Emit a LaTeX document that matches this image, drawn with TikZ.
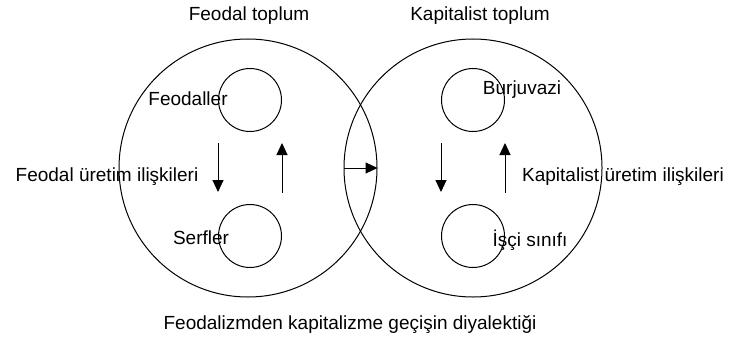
\documentclass[tikz,border=0pt]{standalone}
\usepackage{fontspec}
\setmainfont{Liberation Sans}
\usetikzlibrary{positioning}
\usetikzlibrary{arrows.meta}

\tikzset{
    society/.style={draw, circle, line width=1pt, minimum size=258pt, inner sep=0pt},
    classcircle/.style={draw, circle, line width=1pt, minimum size=63pt, inner sep=0pt},
    arr/.style={line width=1pt, -{Triangle[length=12pt,width=11pt]}},
    lbl/.style={font=\fontsize{19}{21}\selectfont, inner sep=0pt}
}

\begin{document}
\begin{tikzpicture}[x=1pt,y=-1pt]
        \useasboundingbox (0,0) rectangle (730,345);

        % two societies
        \node[society] (feo) at (248,168) {};
        \node[society] (kap) at (473,168) {};
        \node[lbl] (feot) at (249,16) {Feodal toplum};
        \node[lbl] (kapt) at (480,16) {Kapitalist toplum};

        % classes
        \node[classcircle] (fu) at (250,100) {};
        \node[classcircle] (fl) at (250,236) {};
        \node[classcircle] (ku) at (473,100) {};
        \node[classcircle] (kl) at (473,236) {};

        \draw[arr, shorten <=11pt, shorten >=12pt] (fu.west |- fu.south) -- (fu.west |- fl.north);
        \draw[arr, shorten <=11pt, shorten >=11pt] (fl.east |- fl.north) -- (fl.east |- fu.south);
        \draw[arr, shorten <=11pt, shorten >=12pt] (ku.west |- ku.south) -- (ku.west |- kl.north);
        \draw[arr, shorten <=11pt, shorten >=11pt] (kl.east |- kl.north) -- (kl.east |- ku.south);

        % transition
        \draw[arr] (kap.west) -- (feo.east);

        \node[lbl] (fuc) at (188,99) {Feodaller};
        \node[lbl] (flc) at (201,238) {Serfler};
        \node[lbl] (fr) at (107,177) {Feodal üretim ilişkileri};
        \node[lbl] (kuc) at (522,90) {Burjuvazi};
        \node[lbl] (klc) at (530,240) {İşçi sınıfı};
        \node[lbl] (kr) at (623,177) {Kapitalist üretim ilişkileri};

        \node[lbl] (title) at (350,325) {Feodalizmden kapitalizme geçişin diyalektiği};
    \end{tikzpicture}
\end{document}
